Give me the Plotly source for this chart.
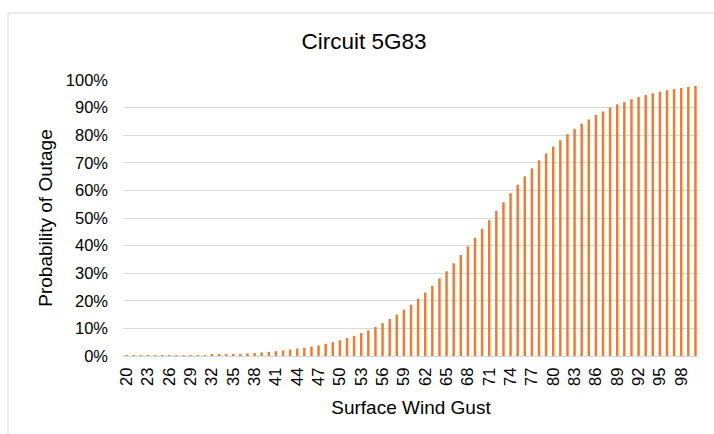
import plotly.graph_objects as go

wind_gust = list(range(20, 101))
prob_pct = [
    0.05, 0.06, 0.07, 0.08, 0.10, 0.12, 0.15, 0.18, 0.20, 0.25,
    0.30, 0.35, 0.40, 0.50, 0.60, 0.65, 0.75, 0.95, 1.10, 1.30,
    1.50, 1.75, 2.05, 2.35, 2.70, 3.00, 3.40, 3.80, 4.40, 5.00,
    5.70, 6.50, 7.30, 8.30, 9.30, 10.5, 11.9, 13.4, 15.0, 16.8,
    18.6, 20.8, 23.0, 25.4, 28.1, 30.7, 33.6, 36.6, 39.7, 42.8,
    46.1, 49.2, 52.6, 55.7, 59.0, 62.0, 65.1, 68.0, 70.9, 73.4,
    75.9, 78.2, 80.4, 82.3, 84.2, 85.7, 87.3, 88.6, 90.0, 91.2,
    92.0, 93.0, 93.8, 94.6, 95.2, 95.7, 96.3, 96.7, 97.1, 97.5,
    97.8,
]
probability = [v / 100 for v in prob_pct]
x_tick_vals = list(range(20, 101, 3))
y_tick_vals = [i / 10 for i in range(11)]

FONT = "Liberation Sans, Arial, sans-serif"

fig = go.Figure(
    go.Bar(
        x=wind_gust,
        y=probability,
        marker=dict(color="#ED7D31", line=dict(width=0)),
    )
)

L, R, T, B = 123, 15, 80, 78
W, H = 714, 434
pw = W - L - R
ph = H - T - B

fig.update_layout(
    width=W,
    height=H,
    margin=dict(l=L, r=R, t=T, b=B),
    paper_bgcolor="white",
    plot_bgcolor="white",
    bargap=0.65,
    showlegend=False,
    font=dict(family=FONT, color="#000000"),
    title=dict(
        text="Circuit 5G83",
        x=364 / W,
        xanchor="center",
        xref="container",
        y=1 - 41 / H,
        yanchor="middle",
        font=dict(size=22.5, family=FONT, color="#000000"),
    ),
    xaxis=dict(
        range=[19.5, 100.5],
        tickmode="array",
        tickvals=x_tick_vals,
        ticktext=[str(v) for v in x_tick_vals],
        tickangle=-90,
        tickfont=dict(size=16.5, family=FONT),
        showgrid=False,
        showline=True,
        linecolor="#D9D9D9",
        linewidth=1,
        ticks="",
        ticklabelstandoff=4,
        zeroline=False,
        title=dict(text="Surface Wind Gust", font=dict(size=19, family=FONT), standoff=15),
    ),
    yaxis=dict(
        range=[0, 1.0],
        tickmode="array",
        tickvals=y_tick_vals,
        tickformat=".0%",
        tickfont=dict(size=16.5, family=FONT),
        showgrid=True,
        gridcolor="#D9D9D9",
        gridwidth=1,
        zeroline=False,
        ticks="",
        ticklabelstandoff=14,
        title=dict(text="Probability of Outage", font=dict(size=19, family=FONT), standoff=8),
    ),
    shapes=[
        dict(
            type="rect",
            xref="paper",
            yref="paper",
            x0=(8 - L) / pw,
            x1=(W + 10 - L) / pw,
            y0=(H - B - (H + 10)) / ph,
            y1=(H - B - 13) / ph,
            line=dict(color="#D9D9D9", width=1),
            fillcolor="rgba(0,0,0,0)",
            layer="below",
        )
    ],
)

fig.write_html(
    "out.html",
    config={"displayModeBar": False},
    post_script="document.body.style.margin='0';document.body.style.overflow='hidden';",
)
